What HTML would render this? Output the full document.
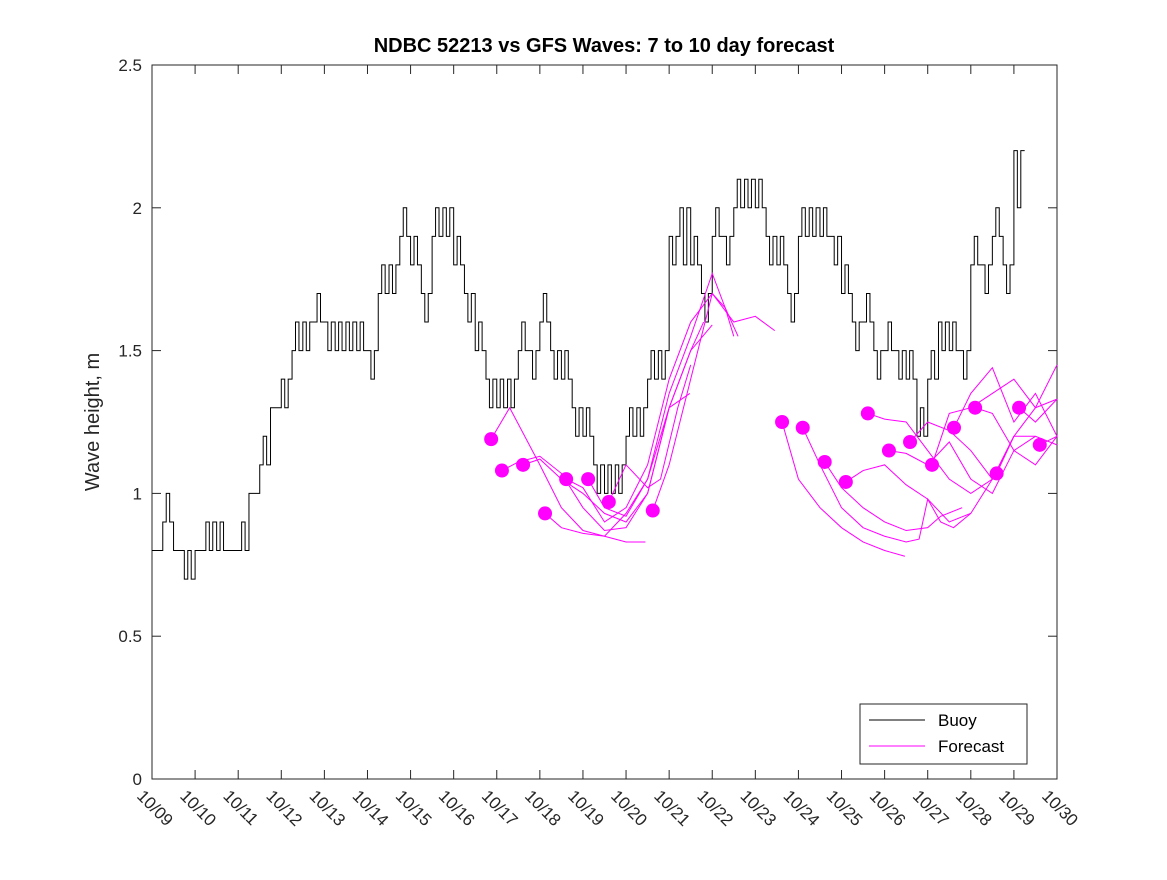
<!DOCTYPE html>
<html><head><meta charset="utf-8"><style>
body{margin:0;background:#fff;}
svg text{font-family:"Liberation Sans","DejaVu Sans",sans-serif;fill:#262626;}
</style></head><body>
<svg id="chart" width="1167" height="875" xmlns="http://www.w3.org/2000/svg">
<rect x="0" y="0" width="1167" height="875" fill="#fff"/>
<rect x="152" y="65" width="905" height="714" fill="#fff" stroke="#262626" stroke-width="1"/>
<text x="604" y="52" text-anchor="middle" font-size="20" font-weight="bold" style="fill:#000">NDBC 52213 vs GFS Waves: 7 to 10 day forecast</text>
<text transform="translate(99,422) rotate(-90)" text-anchor="middle" font-size="20">Wave height, m</text>
<g id="axes"></g>
<g id="series"></g>
<g>
<rect x="860" y="704" width="167" height="60" fill="#fff" stroke="#262626"/>
<line x1="869" y1="720" x2="925" y2="720" stroke="#000"/>
<text x="938" y="726" font-size="17" style="fill:#000">Buoy</text>
<line x1="869" y1="746" x2="925" y2="746" stroke="#ff00ff"/>
<text x="938" y="752" font-size="17" style="fill:#000">Forecast</text>
</g>
</svg>
<script>
const xTickLabels=["10/09","10/10","10/11","10/12","10/13","10/14","10/15","10/16","10/17","10/18","10/19","10/20","10/21","10/22","10/23","10/24","10/25","10/26","10/27","10/28","10/29","10/30"];
const yTicks=[0,0.5,1,1.5,2,2.5];
const yTickLabels=["0","0.5","1","1.5","2","2.5"];
// buoy values every 0.25 day from 10/09
const buoyValues=[0.8,0.9,0.8,0.7, 0.8,0.9,0.8,0.8, 0.8,1.0,1.1,1.3, 1.4,1.5,1.6,1.6, 1.6,1.5,1.6,1.5, 1.5,1.7,1.8,1.9, 1.8,1.7,1.9,2.0, 1.8,1.7,1.5,1.4, 1.3,1.4,1.5,1.5, 1.6,1.5,1.4,1.3, 1.2,1.1,1.0,1.1, 1.2,1.3,1.4,1.5, 1.9,2.0,1.8,1.7, 1.9,1.9,2.0,2.1, 2.0,1.9,1.8,1.7, 1.9,2.0,1.9,1.9, 1.7,1.6,1.6,1.5, 1.5,1.5,1.4,1.2, 1.4,1.6,1.5,1.5, 1.8,1.8,1.9,1.8, 2.2];
const buoyJitter=[0,0.1,0,0.1, 0,-0.1,0.1,0, 0.1,0,0.1,0, -0.1,0.1,-0.1,0.1, -0.1,0.1,-0.1,0.1, -0.1,0.1,-0.1,0.1, 0.1,-0.1,0.1,-0.1, 0.1,-0.1,0.1,-0.1, 0.1,-0.1,0.1,-0.1, 0.1,-0.1,0.1,-0.1, 0.1,-0.1,0.1,-0.1, 0.1,-0.1,0.1,-0.1, -0.1,-0.2,0.1,-0.1, 0.1,-0.1,0.1,-0.1, 0.1,-0.1,0.1,-0.1, 0.1,-0.1,0.1,-0.1, 0.1,-0.1,0.1,-0.1, 0.1,-0.1,0.1,0.1, 0.1,-0.1,0.1,-0.1, 0.1,-0.1,0.1,-0.1, -0.2];
const forecastStarts=[7.87,8.12,8.61,9.12,9.61,10.12,10.60,11.62,14.62,15.10,15.61,16.10,16.61,17.10,17.59,18.10,18.61,19.10,19.60,20.12,20.60];
const forecastStartValues=[1.19,1.08,1.10,0.93,1.05,1.05,0.97,0.94,1.25,1.23,1.11,1.04,1.28,1.15,1.18,1.10,1.23,1.30,1.07,1.30,1.17];
const forecastDays=[
[7.87,8.3,9,9.5,10,10.5,11,11.45],
[8.12,8.5,9,9.5,10,10.5,11,11.5,12,12.48],
[8.61,9,9.5,10,10.5,11,11.5,12,12.5,13],
[9.12,9.5,10,10.5,11,11.5,12,12.5,13,13.3,13.6],
[9.61,10,10.5,11,11.5,12,12.5,13,13.5,14,14.45],
[10.12,10.5,11,11.5,12,12.5,12.8],
[10.60,11,11.5,11.8,12.2,12.5],
[11.62,12,12.5,13,13.3,13.5],
[14.62,15,15.5,16,16.5,17,17.47],
[15.10,15.5,16,16.5,17,17.5,17.8,18,18.3,18.6,19],
[15.61,16,16.5,17,17.5,18,18.3,18.8],
[16.10,16.5,17,17.5,18,18.5,19,19.5],
[16.61,17,17.5,18,18.5,19,19.5,20],
[17.10,17.5,18,18.5,19,19.5,20,20.5],
[17.59,18,18.5,19,19.5,20,20.5,21],
[18.10,18.5,19,19.5,20,20.5,21],
[18.61,19,19.5,20,20.5,21],
[19.10,19.5,20,20.5,21],
[19.60,20,20.5,21],
[20.12,20.5,21],
[20.60,21]];
const forecastValues=[
[1.19,1.30,1.10,0.95,0.87,0.85,0.83,0.83],
[1.08,1.11,1.13,1.07,0.95,0.87,0.88,1.0,1.3,1.35],
[1.10,1.12,1.05,1.0,0.93,0.90,1.0,1.3,1.5,1.59],
[0.93,0.88,0.86,0.85,0.93,1.05,1.35,1.55,1.77,1.65,1.55],
[1.05,1.02,0.90,0.95,1.1,1.4,1.6,1.7,1.6,1.62,1.57],
[1.05,0.95,0.92,1.05,1.3,1.5,1.6],
[0.97,1.1,1.02,1.05,1.3,1.45],
[0.94,1.1,1.4,1.7,1.65,1.55],
[1.25,1.05,0.95,0.88,0.83,0.80,0.78],
[1.23,1.1,0.95,0.88,0.85,0.83,0.84,0.98,0.9,0.88,0.93],
[1.11,1.02,0.95,0.90,0.87,0.88,0.92,0.95],
[1.04,1.08,1.1,1.03,0.98,0.9,0.93,1.05],
[1.28,1.26,1.25,1.15,1.05,1.0,1.05,1.2],
[1.15,1.14,1.1,1.18,1.05,1.0,1.15,1.2],
[1.18,1.25,1.22,1.15,1.05,1.2,1.3,1.45],
[1.10,1.28,1.3,1.35,1.4,1.3,1.33],
[1.23,1.35,1.44,1.25,1.35,1.2],
[1.30,1.28,1.15,1.1,1.2],
[1.07,1.2,1.2,1.17],
[1.30,1.25,1.33],
[1.17,1.2]];
const X=d=>152+d*(905/21);
const Y=v=>779-v*(714/2.5);
const NS="http://www.w3.org/2000/svg";
function mk(tag,attrs,parent){const e=document.createElementNS(NS,tag);for(const k in attrs)e.setAttribute(k,attrs[k]);parent.appendChild(e);return e;}
const axes=document.getElementById('axes');
xTickLabels.forEach((lab,i)=>{
  const x=X(i);
  const t1=mk('line',{x1:x,y1:779,x2:x,y2:770,stroke:'#262626'},axes);
  
  
  const t2=mk('line',{x1:x,y1:65,x2:x,y2:74,stroke:'#262626'},axes);
  
  
  const tx=mk('text',{transform:`translate(${x-16},${797}) rotate(45)`,'font-size':'17'},axes);
  tx.textContent=lab;
  
  
});
yTicks.forEach((v,i)=>{
  const y=Y(v);
  const t1=mk('line',{x1:152,y1:y,x2:161,y2:y,stroke:'#262626'},axes);
  
  
  const t2=mk('line',{x1:1057,y1:y,x2:1048,y2:y,stroke:'#262626'},axes);
  
  
  const tx=mk('text',{x:142,y:y+6,'text-anchor':'end','font-size':'17'},axes);
  tx.textContent=yTickLabels[i];
  
  
});
const series=document.getElementById('series');
// buoy step line
let d='';
buoyValues.forEach((v,i)=>{
  const x0=X(i*0.25), x1=X(i*0.25+0.08), x2=X(i*0.25+0.16), x3=X(i*0.25+0.25);
  const a=v, b=v+buoyJitter[i];
  d+=(i===0?'M':'L')+x0+','+Y(a)+'L'+x1+','+Y(a)+'L'+x1+','+Y(b)+'L'+x2+','+Y(b)+'L'+x2+','+Y(a)+'L'+x3+','+Y(a);
});
const bl=mk('path',{d:d,fill:'none',stroke:'#000','stroke-width':'1'},series);


forecastDays.forEach((days,k)=>{
  const pts=days.map((dd,j)=>X(dd)+','+Y(forecastValues[k][j])).join(' ');
  const pl=mk('polyline',{points:pts,fill:'none',stroke:'#ff00ff','stroke-width':'1'},series);
  
  
});
forecastStarts.forEach((dd,k)=>{
  const c=mk('circle',{cx:X(dd),cy:Y(forecastStartValues[k]),r:7,fill:'#ff00ff'},series);
  
  
});
</script>
</body></html>
